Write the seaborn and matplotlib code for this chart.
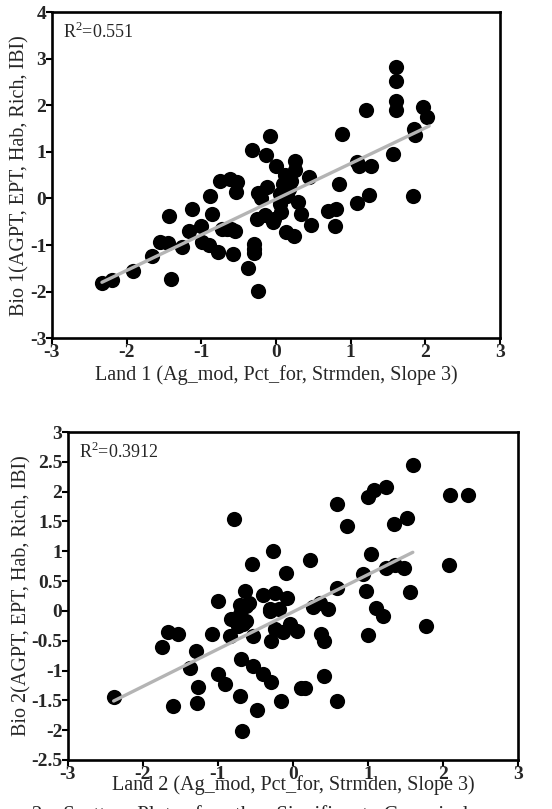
import numpy as np
import pandas as pd
import matplotlib
matplotlib.use("Agg")
import matplotlib.pyplot as plt
import seaborn as sns

# panel 1: Land 1 vs Bio 1
land1 = [1.6, 1.6, 1.6, 1.6, 1.21, 1.97, 2.02, 1.85, 1.86, 0.89,
         1.56, 1.08, 1.11, 1.27, 0.84, 1.84, 1.25, 1.09, 0.7, 0.8,
         0.79, 0.47, 0.14, 0.24, 0.33, -0.03, -0.15,
         -0.08, -0.32, -0.14, 0.0, 0.25, 0.26, 0.44, 0.12, 0.1, 0.2,
         0.05, -0.12, -0.24, -0.2, 0.15, 0.3, 0.05, 0.18, -0.26, -0.04, 0.07,
         -0.75, -0.62, -0.52, -0.53, -0.88, -1.13, -1.43, -0.86, -1.01, -1.17,
         -0.66, -0.55, -0.6, -0.99, -0.9, -1.26, -1.55, -1.44, -1.66, -1.91,
         -2.33, -2.2, -1.41, -0.77, -0.58, -0.3, -0.29, -0.37, -0.24, -0.3, -0.72]
bio1 = [2.82, 2.53, 2.1, 1.9, 1.9, 1.96, 1.74, 1.5, 1.36, 1.38,
        0.95, 0.78, 0.7, 0.7, 0.3, 0.05, 0.08, -0.1, -0.26, -0.22,
        -0.6, -0.58, -0.73, -0.8, -0.33, -0.45, -0.35,
        1.33, 1.04, 0.93, 0.7, 0.8, 0.6, 0.45, 0.5, 0.3, 0.38,
        0.1, 0.25, 0.12, 0.02, 0.05, -0.07, -0.13, 0.2, -0.44, -0.5, -0.3,
        0.38, 0.42, 0.35, 0.13, 0.06, -0.23, -0.37, -0.34, -0.59, -0.69,
        -0.66, -0.69, -0.66, -0.94, -1.01, -1.05, -0.94, -0.96, -1.23, -1.55,
        -1.82, -1.76, -1.73, -1.16, -1.19, -0.98, -1.18, -1.5, -1.98, -1.08, -0.66]
fit_x1 = [-2.33, 2.05]

# panel 2: Land 2 vs Bio 2
land2 = [1.6, 2.09, 2.33, 1.24, 1.08, 1.0, 0.59, 0.72, 1.35, 1.52,
         -0.78, -0.27, -0.55, 0.23, -0.09, 1.04, 2.08, 1.24, 1.36, 1.48,
         0.93, 0.98, 0.59, 1.56, -1.0, -0.64, -0.4, -0.24, -0.08, -0.71,
         -0.58, -0.3, 0.36, 0.47, 1.11, -0.18, 0.27, 1.2, 1.78, 1.0,
         0.38, 0.42, 0.06, -0.04, -0.13, -0.29, -0.24, -0.53, -0.82, -0.73,
         -0.67, -0.84, -0.62, -0.71, -1.08, -1.67, -1.53, -1.74, -1.29, -1.37,
         -1.0, -0.91, -1.26, -0.69, -0.53, -0.4, -0.29, 0.11, 0.16, 0.42,
         -0.71, -1.28, -1.6, -2.39, -0.16, 0.59, -0.48, -0.68, -0.31, -0.62]
bio2 = [2.44, 1.95, 1.95, 2.07, 2.02, 1.91, 1.8, 1.42, 1.45, 1.55,
        1.54, 1.01, 0.79, 0.86, 0.63, 0.96, 0.77, 0.72, 0.77, 0.72,
        0.62, 0.33, 0.38, 0.32, 0.16, 0.33, 0.27, 0.3, 0.21, 0.1,
        0.13, 0.03, 0.14, 0.03, 0.05, 0.03, 0.06, -0.08, -0.25, -0.4,
        -0.39, -0.5, -0.34, -0.22, -0.36, -0.5, -0.31, -0.42, -0.14, -0.25,
        -0.22, -0.42, -0.17, -0.06, -0.38, -0.36, -0.39, -0.6, -0.68, -0.95,
        -1.06, -1.23, -1.27, -0.81, -0.92, -1.06, -1.2, -1.3, -1.3, -1.1,
        -1.42, -1.54, -1.59, -1.45, -1.51, -1.51, -1.66, -2.02, 0.0, 0.08]
fit_x2 = [-2.39, 1.6]

panels = [
    dict(x=land1, y=bio1, fit_x=fit_x1, ylim=(-3, 4), yticks=np.arange(-3, 4.1, 1),
         ylabels=["-3", "-2", "-1", "0", "1", "2", "3", "4"],
         xlabel="Land 1 (Ag_mod, Pct_for, Strmden, Slope 3)",
         ylabel="Bio 1(AGPT, EPT, Hab, Rich, IBI)", r2="R$^{2}$=0.551",
         rect=[0.094, 0.582, 0.812, 0.403], xlabelpad=3),
    dict(x=land2, y=bio2, fit_x=fit_x2, ylim=(-2.5, 3), yticks=np.arange(-2.5, 3.01, 0.5),
         ylabels=["-2.5", "-2", "-1.5", "-1", "-0.5", "0", "0.5", "1", "1.5", "2", "2.5", "3"],
         xlabel="Land 2 (Ag_mod, Pct_for, Strmden, Slope 3)",
         ylabel="Bio 2(AGPT, EPT, Hab, Rich, IBI)", r2="R$^{2}$=0.3912",
         rect=[0.123, 0.0606, 0.815, 0.4054], xlabelpad=-5),
]

sns.set_style("ticks")
plt.rcParams["font.family"] = ["Liberation Serif", "DejaVu Serif"]
plt.rcParams["mathtext.fontset"] = "custom"
plt.rcParams["mathtext.rm"] = "Liberation Serif"

fig = plt.figure(figsize=(5.52, 8.09), dpi=100)

for p in panels:
    ax = fig.add_axes(p["rect"])
    df = pd.DataFrame({"x": p["x"], "y": p["y"]})
    sns.scatterplot(data=df, x="x", y="y", ax=ax, s=120, color="black",
                    linewidth=0, legend=False)
    # least squares line, drawn over the span shown in the figure
    slope, icpt = np.polyfit(df["x"], df["y"], 1)
    fit = pd.DataFrame({"x": p["fit_x"]})
    fit["y"] = slope * fit["x"] + icpt
    sns.lineplot(data=fit, x="x", y="y", ax=ax, color="#b4b4b4", lw=2.4)
    ax.set_xlim(-3, 3)
    ax.set_ylim(p["ylim"])
    ax.set_xticks(np.arange(-3, 3.1, 1))
    ax.set_xticklabels(["-3", "-2", "-1", "0", "1", "2", "3"], fontweight="bold", fontsize=14)
    ax.set_yticks(p["yticks"])
    ax.set_yticklabels(p["ylabels"], fontweight="bold", fontsize=14)
    ax.tick_params(direction="out", length=4, width=1.5, color="black", pad=0)
    for s in ax.spines.values():
        s.set_visible(True)
        s.set_linewidth(1.9)
        s.set_color("black")
    ax.set_xlabel(p["xlabel"], fontsize=14.5, labelpad=p["xlabelpad"])
    ax.set_ylabel(p["ylabel"], fontsize=14.5, labelpad=0)
    ax.text(0.025, 0.97, p["r2"], transform=ax.transAxes, fontsize=13,
            ha="left", va="top")

fig.text(-0.05, 1 - 805 / 809, "Figure 2.   Scatter   Plots   for   the   Significant   Canonical",
         fontsize=15, ha="left", va="top")

fig.savefig("out.png", dpi=100)
